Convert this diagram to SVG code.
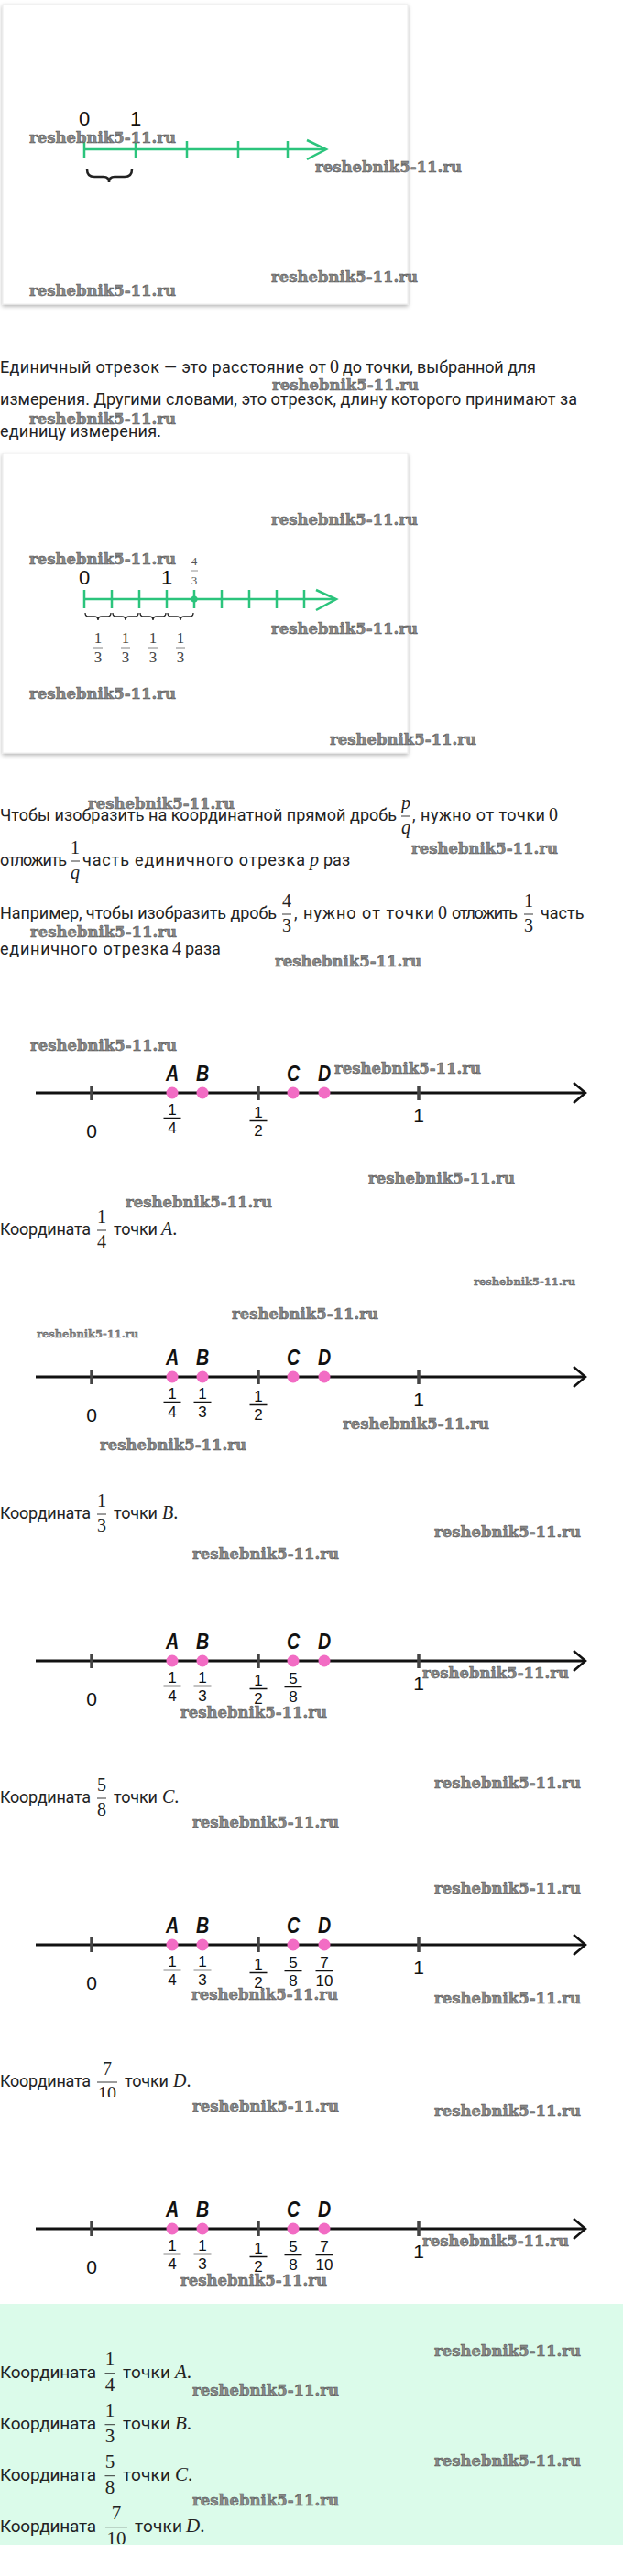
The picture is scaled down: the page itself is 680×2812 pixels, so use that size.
<svg xmlns="http://www.w3.org/2000/svg" width="680" height="2812" viewBox="0 0 680 2812">
<style>
.t{font-family:Roboto,"Liberation Sans",sans-serif;font-size:18px;fill:#222}
.tb{font-family:Roboto,"Liberation Sans",sans-serif;font-size:19px;fill:#222}
.m{font-family:"Liberation Serif",serif;font-size:20px;fill:#222}
.mb{font-family:"Liberation Serif",serif;font-size:21px;fill:#222}
.c{text-anchor:middle}
.i{font-style:italic}
.wm{font-family:"DejaVu Serif",serif;font-weight:bold;font-size:16.5px;fill:#8a8a8a;stroke:#4d4d4d;stroke-width:0.5}
.ws{font-size:11.5px;stroke-width:0.35}
.g{stroke:#2bc47c;stroke-width:2.5;fill:none}
.br{stroke:#222;fill:none}
.lab{font-family:"Liberation Sans",Arial,sans-serif;font-size:22px;fill:#111;text-anchor:middle}
.ax{stroke:#111;stroke-width:3;fill:none}
.ar{stroke:#111;stroke-width:2.5;fill:none}
.tk{stroke:#444;stroke-width:3.5}
.dot{fill:#f26cc4}
.pt{font-family:"Liberation Sans",Arial,sans-serif;font-weight:bold;font-style:italic;font-size:24px;fill:#111;text-anchor:middle}
.nm{font-family:"Liberation Sans",Arial,sans-serif;font-size:21px;fill:#111;text-anchor:middle}
.fd{font-family:"Liberation Sans",Arial,sans-serif;font-size:17px;fill:#111;text-anchor:middle}
.fb{stroke:#111;stroke-width:1.6}
.mbar{stroke:#222;stroke-width:0.9}
</style>
<defs>
<filter id="sh" x="-5%" y="-5%" width="110%" height="112%">
<feDropShadow dx="0" dy="2" stdDeviation="2" flood-color="#000" flood-opacity="0.3"/>
</filter>
<clipPath id="cd1"><rect x="95" y="2255" width="50" height="34"/></clipPath>
<clipPath id="cd2"><rect x="100" y="2740" width="55" height="37"/></clipPath>
</defs>

<g id="card1">
<rect x="3" y="5" width="442" height="327" fill="#fff" stroke="#ececec" filter="url(#sh)"/>
<line class="g" x1="92" y1="163" x2="355" y2="163"/>
<path class="g" d="M92,154V173M148,154V173M204,154V173M260,154V173M314,154V173"/>
<polyline class="g" points="335,153 356,163 335,174"/>
<text class="lab" x="92" y="137">0</text>
<text class="lab" x="148" y="137">1</text>
<path class="br" stroke-width="2.5" d="M95,185 Q95,193 103,193 L113,193 Q119,193 119,199 Q119,193 125,193 L136,193 Q144,193 144,185"/>
</g>

<g id="para1">
<text class="t" x="0" y="407" textLength="356">Единичный отрезок — это расстояние от</text>
<text class="m" x="360" y="407">0</text>
<text class="t" x="374" y="407" textLength="211">до точки, выбранной для</text>
<text class="t" x="0" y="442" textLength="630">измерения. Другими словами, это отрезок, длину которого принимают за</text>
<text class="t" x="0" y="477" textLength="176">единицу измерения.</text>
</g>

<g id="card2">
<rect x="3" y="495" width="442" height="327" fill="#fff" stroke="#ececec" filter="url(#sh)"/>
<line class="g" x1="92" y1="654" x2="366" y2="654"/>
<path class="g" d="M92,644V664M122,644V664M152,644V664M182,644V664M212,644V664M242,644V664M272,644V664M302,644V664M332,644V664"/>
<circle cx="212" cy="654" r="3.6" fill="#2bc47c"/>
<polyline class="g" points="345,644 367,654 345,666"/>
<text class="lab" x="92" y="638">0</text>
<text class="lab" x="182" y="638">1</text>
<text x="212" y="617" class="c" font-family="Liberation Serif,serif" font-size="13" fill="#555">4</text>
<line x1="208" y1="623" x2="216" y2="623" stroke="#777" stroke-width="0.8"/>
<text x="212" y="638" class="c" font-family="Liberation Serif,serif" font-size="13" fill="#555">3</text>
<path class="br" stroke-width="1.3" d="M93,669 Q93,673 97,673 L103,673 Q107,673 107,677 Q107,673 111,673 L117,673 Q121,673 121,669 M123,669 Q123,673 127,673 L133,673 Q137,673 137,677 Q137,673 141,673 L147,673 Q151,673 151,669 M153,669 Q153,673 157,673 L163,673 Q167,673 167,677 Q167,673 171,673 L177,673 Q181,673 181,669 M183,669 Q183,673 187,673 L193,673 Q197,673 197,677 Q197,673 201,673 L207,673 Q211,673 211,669"/>
<g font-family="Liberation Serif,serif" font-size="17" fill="#444" text-anchor="middle">
<text x="107" y="702">1</text><text x="107" y="723">3</text>
<text x="137" y="702">1</text><text x="137" y="723">3</text>
<text x="167" y="702">1</text><text x="167" y="723">3</text>
<text x="197" y="702">1</text><text x="197" y="723">3</text>
</g>
<path stroke="#666" stroke-width="0.8" d="M102,707H112M132,707H142M162,707H172M192,707H202"/>
</g>

<g id="para2">
<text class="t" x="0" y="896" textLength="433">Чтобы изобразить на координатной прямой дробь</text>
<text class="m i c" x="443" y="882.5">p</text>
<line class="mbar" x1="438" y1="891" x2="448" y2="891"/>
<text class="m i c" x="443" y="909.5">q</text>
<text class="t" x="450" y="896" textLength="145">, нужно от точки</text>
<text class="m" x="599" y="896">0</text>

<text class="t" x="0" y="945" textLength="73">отложить</text>
<text class="m c" x="82" y="931.5">1</text>
<line class="mbar" x1="77" y1="940" x2="87" y2="940"/>
<text class="m i c" x="82" y="958.5">q</text>
<text class="t" x="90" y="945" textLength="243">часть единичного отрезка</text>
<text class="m i" x="338" y="945">p</text>
<text class="t" x="353" y="945">раз</text>

<text class="t" x="0" y="1003" textLength="302">Например, чтобы изобразить дробь</text>
<text class="m c" x="313" y="989.5">4</text>
<line class="mbar" x1="308" y1="998" x2="318" y2="998"/>
<text class="m c" x="313" y="1016.7">3</text>
<text class="t" x="321" y="1003" textLength="153">, нужно от точки</text>
<text class="m" x="478" y="1003">0</text>
<text class="t" x="493" y="1003" textLength="72">отложить</text>
<text class="m c" x="577" y="989.5">1</text>
<line class="mbar" x1="572" y1="998" x2="582" y2="998"/>
<text class="m c" x="577" y="1016.7">3</text>
<text class="t" x="590" y="1003">часть</text>

<text class="t" x="0" y="1042" textLength="184">единичного отрезка</text>
<text class="m" x="188" y="1042">4</text>
<text class="t" x="202" y="1042">раза</text>
</g>

<g id="numberline1" transform="translate(0,1193)">
<line class="ax" x1="39" y1="0" x2="638" y2="0"/>
<polyline class="ar" points="626,-11 639,0 626,11"/>
<path class="tk" d="M100,-8V8M282,-8V8M457,-8V8"/>
<circle class="dot" cx="188" cy="0" r="6.5"/><circle class="dot" cx="221" cy="0" r="6.5"/><circle class="dot" cx="320" cy="0" r="6.5"/><circle class="dot" cx="354" cy="0" r="6.5"/>
<text class="pt" transform="translate(188,-13) scale(0.82,1)">A</text><text class="pt" transform="translate(221,-13) scale(0.82,1)">B</text><text class="pt" transform="translate(320,-13) scale(0.82,1)">C</text><text class="pt" transform="translate(354,-13) scale(0.82,1)">D</text>
<text class="nm" x="100" y="49">0</text><text class="nm" x="457" y="32">1</text>
<text class="fd" x="188" y="24">1</text><text class="fd" x="188" y="44">4</text>
<text class="fd" x="282" y="27">1</text><text class="fd" x="282" y="47">2</text>
<path class="fb" d="M178.5,27.5H197.5M272.5,30.5H291.5"/>
</g>

<g id="caption1">
<text class="t" x="0" y="1348" textLength="99">Координата</text>
<text class="m c" x="111" y="1334.5">1</text>
<line class="mbar" x1="106" y1="1343" x2="116" y2="1343"/>
<text class="m c" x="111" y="1361.7">4</text>
<text class="t" x="124" y="1348" textLength="48">точки</text>
<text class="m" x="176" y="1348"><tspan class="i">A</tspan>.</text>
</g>

<g id="numberline2" transform="translate(0,1503)">
<line class="ax" x1="39" y1="0" x2="638" y2="0"/>
<polyline class="ar" points="626,-11 639,0 626,11"/>
<path class="tk" d="M100,-8V8M282,-8V8M457,-8V8"/>
<circle class="dot" cx="188" cy="0" r="6.5"/><circle class="dot" cx="221" cy="0" r="6.5"/><circle class="dot" cx="320" cy="0" r="6.5"/><circle class="dot" cx="354" cy="0" r="6.5"/>
<text class="pt" transform="translate(188,-13) scale(0.82,1)">A</text><text class="pt" transform="translate(221,-13) scale(0.82,1)">B</text><text class="pt" transform="translate(320,-13) scale(0.82,1)">C</text><text class="pt" transform="translate(354,-13) scale(0.82,1)">D</text>
<text class="nm" x="100" y="49">0</text><text class="nm" x="457" y="32">1</text>
<text class="fd" x="188" y="24">1</text><text class="fd" x="188" y="44">4</text>
<text class="fd" x="221" y="24">1</text><text class="fd" x="221" y="44">3</text>
<text class="fd" x="282" y="27">1</text><text class="fd" x="282" y="47">2</text>
<path class="fb" d="M178.5,27.5H197.5M211.5,27.5H230.5M272.5,30.5H291.5"/>
</g>

<g id="caption2">
<text class="t" x="0" y="1658" textLength="99">Координата</text>
<text class="m c" x="111" y="1644.5">1</text>
<line class="mbar" x1="106" y1="1653" x2="116" y2="1653"/>
<text class="m c" x="111" y="1671.7">3</text>
<text class="t" x="124" y="1658" textLength="48">точки</text>
<text class="m" x="177" y="1658"><tspan class="i">B</tspan>.</text>
</g>

<g id="numberline3" transform="translate(0,1813)">
<line class="ax" x1="39" y1="0" x2="638" y2="0"/>
<polyline class="ar" points="626,-11 639,0 626,11"/>
<path class="tk" d="M100,-8V8M282,-8V8M457,-8V8"/>
<circle class="dot" cx="188" cy="0" r="6.5"/><circle class="dot" cx="221" cy="0" r="6.5"/><circle class="dot" cx="320" cy="0" r="6.5"/><circle class="dot" cx="354" cy="0" r="6.5"/>
<text class="pt" transform="translate(188,-13) scale(0.82,1)">A</text><text class="pt" transform="translate(221,-13) scale(0.82,1)">B</text><text class="pt" transform="translate(320,-13) scale(0.82,1)">C</text><text class="pt" transform="translate(354,-13) scale(0.82,1)">D</text>
<text class="nm" x="100" y="49">0</text><text class="nm" x="457" y="32">1</text>
<text class="fd" x="188" y="24">1</text><text class="fd" x="188" y="44">4</text>
<text class="fd" x="221" y="24">1</text><text class="fd" x="221" y="44">3</text>
<text class="fd" x="282" y="27">1</text><text class="fd" x="282" y="47">2</text>
<text class="fd" x="320" y="25">5</text><text class="fd" x="320" y="45">8</text>
<path class="fb" d="M178.5,27.5H197.5M211.5,27.5H230.5M272.5,30.5H291.5M310.5,28.5H329.5"/>
</g>

<g id="caption3">
<text class="t" x="0" y="1968" textLength="99">Координата</text>
<text class="m c" x="111" y="1954.5">5</text>
<line class="mbar" x1="106" y1="1963" x2="116" y2="1963"/>
<text class="m c" x="111" y="1981.7">8</text>
<text class="t" x="124" y="1968" textLength="48">точки</text>
<text class="m" x="177" y="1968"><tspan class="i">C</tspan>.</text>
</g>

<g id="numberline4" transform="translate(0,2123)">
<line class="ax" x1="39" y1="0" x2="638" y2="0"/>
<polyline class="ar" points="626,-11 639,0 626,11"/>
<path class="tk" d="M100,-8V8M282,-8V8M457,-8V8"/>
<circle class="dot" cx="188" cy="0" r="6.5"/><circle class="dot" cx="221" cy="0" r="6.5"/><circle class="dot" cx="320" cy="0" r="6.5"/><circle class="dot" cx="354" cy="0" r="6.5"/>
<text class="pt" transform="translate(188,-13) scale(0.82,1)">A</text><text class="pt" transform="translate(221,-13) scale(0.82,1)">B</text><text class="pt" transform="translate(320,-13) scale(0.82,1)">C</text><text class="pt" transform="translate(354,-13) scale(0.82,1)">D</text>
<text class="nm" x="100" y="49">0</text><text class="nm" x="457" y="32">1</text>
<text class="fd" x="188" y="24">1</text><text class="fd" x="188" y="44">4</text>
<text class="fd" x="221" y="24">1</text><text class="fd" x="221" y="44">3</text>
<text class="fd" x="282" y="27">1</text><text class="fd" x="282" y="47">2</text>
<text class="fd" x="320" y="25">5</text><text class="fd" x="320" y="45">8</text>
<text class="fd" x="354" y="25">7</text><text class="fd" x="354" y="45">10</text>
<path class="fb" d="M178.5,27.5H197.5M211.5,27.5H230.5M272.5,30.5H291.5M310.5,28.5H329.5M344.5,28.5H363.5"/>
</g>

<g id="caption4">
<text class="t" x="0" y="2278" textLength="99">Координата</text>
<text class="m c" x="117" y="2264.5">7</text>
<line class="mbar" x1="106" y1="2273" x2="128" y2="2273"/>
<text class="m c" x="117" y="2291.7" clip-path="url(#cd1)">10</text>
<text class="t" x="136" y="2278" textLength="48">точки</text>
<text class="m" x="189" y="2278"><tspan class="i">D</tspan>.</text>
</g>

<g id="numberline5" transform="translate(0,2433)">
<line class="ax" x1="39" y1="0" x2="638" y2="0"/>
<polyline class="ar" points="626,-11 639,0 626,11"/>
<path class="tk" d="M100,-8V8M282,-8V8M457,-8V8"/>
<circle class="dot" cx="188" cy="0" r="6.5"/><circle class="dot" cx="221" cy="0" r="6.5"/><circle class="dot" cx="320" cy="0" r="6.5"/><circle class="dot" cx="354" cy="0" r="6.5"/>
<text class="pt" transform="translate(188,-13) scale(0.82,1)">A</text><text class="pt" transform="translate(221,-13) scale(0.82,1)">B</text><text class="pt" transform="translate(320,-13) scale(0.82,1)">C</text><text class="pt" transform="translate(354,-13) scale(0.82,1)">D</text>
<text class="nm" x="100" y="49">0</text><text class="nm" x="457" y="32">1</text>
<text class="fd" x="188" y="24">1</text><text class="fd" x="188" y="44">4</text>
<text class="fd" x="221" y="24">1</text><text class="fd" x="221" y="44">3</text>
<text class="fd" x="282" y="27">1</text><text class="fd" x="282" y="47">2</text>
<text class="fd" x="320" y="25">5</text><text class="fd" x="320" y="45">8</text>
<text class="fd" x="354" y="25">7</text><text class="fd" x="354" y="45">10</text>
<path class="fb" d="M178.5,27.5H197.5M211.5,27.5H230.5M272.5,30.5H291.5M310.5,28.5H329.5M344.5,28.5H363.5"/>
</g>

<g id="summary">
<rect x="0" y="2515" width="680" height="263" fill="#dbfbea"/>
<text class="tb" x="0" y="2596" textLength="105">Координата</text>
<text class="mb c" x="120" y="2582">1</text>
<line class="mbar" x1="114.5" y1="2590.7" x2="125.5" y2="2590.7"/>
<text class="mb c" x="120" y="2610.4">4</text>
<text class="tb" x="134" y="2596" textLength="52">точки</text>
<text class="mb" x="191" y="2596"><tspan class="i">A</tspan>.</text>

<text class="tb" x="0" y="2652" textLength="105">Координата</text>
<text class="mb c" x="120" y="2638">1</text>
<line class="mbar" x1="114.5" y1="2646.7" x2="125.5" y2="2646.7"/>
<text class="mb c" x="120" y="2666.4">3</text>
<text class="tb" x="134" y="2652" textLength="52">точки</text>
<text class="mb" x="191" y="2652"><tspan class="i">B</tspan>.</text>

<text class="tb" x="0" y="2708" textLength="105">Координата</text>
<text class="mb c" x="120" y="2694">5</text>
<line class="mbar" x1="114.5" y1="2702.7" x2="125.5" y2="2702.7"/>
<text class="mb c" x="120" y="2722.4">8</text>
<text class="tb" x="134" y="2708" textLength="52">точки</text>
<text class="mb" x="191" y="2708"><tspan class="i">C</tspan>.</text>

<text class="tb" x="0" y="2764" textLength="105">Координата</text>
<text class="mb c" x="127" y="2750">7</text>
<line class="mbar" x1="115" y1="2758.7" x2="139" y2="2758.7"/>
<text class="mb c" x="127" y="2778.4" clip-path="url(#cd2)">10</text>
<text class="tb" x="147" y="2764" textLength="52">точки</text>
<text class="mb" x="203" y="2764"><tspan class="i">D</tspan>.</text>
</g>

<g id="watermarks">
<text class="wm" x="32" y="156" textLength="160">reshebnik5-11.ru</text>
<text class="wm" x="344" y="188" textLength="160">reshebnik5-11.ru</text>
<text class="wm" x="296" y="308" textLength="160">reshebnik5-11.ru</text>
<text class="wm" x="32" y="323" textLength="160">reshebnik5-11.ru</text>
<text class="wm" x="297" y="426" textLength="160">reshebnik5-11.ru</text>
<text class="wm" x="32" y="463" textLength="160">reshebnik5-11.ru</text>
<text class="wm" x="296" y="573" textLength="160">reshebnik5-11.ru</text>
<text class="wm" x="32" y="616" textLength="160">reshebnik5-11.ru</text>
<text class="wm" x="296" y="692" textLength="160">reshebnik5-11.ru</text>
<text class="wm" x="32" y="763" textLength="160">reshebnik5-11.ru</text>
<text class="wm" x="360" y="813" textLength="160">reshebnik5-11.ru</text>
<text class="wm" x="96" y="883" textLength="160">reshebnik5-11.ru</text>
<text class="wm" x="449" y="932" textLength="160">reshebnik5-11.ru</text>
<text class="wm" x="33" y="1023" textLength="160">reshebnik5-11.ru</text>
<text class="wm" x="300" y="1055" textLength="160">reshebnik5-11.ru</text>
<text class="wm" x="33" y="1147" textLength="160">reshebnik5-11.ru</text>
<text class="wm" x="365" y="1172" textLength="160">reshebnik5-11.ru</text>
<text class="wm" x="402" y="1292" textLength="160">reshebnik5-11.ru</text>
<text class="wm" x="137" y="1318" textLength="160">reshebnik5-11.ru</text>
<text class="wm ws" x="517" y="1403" textLength="111">reshebnik5-11.ru</text>
<text class="wm" x="253" y="1440" textLength="160">reshebnik5-11.ru</text>
<text class="wm ws" x="40" y="1460" textLength="111">reshebnik5-11.ru</text>
<text class="wm" x="374" y="1560" textLength="160">reshebnik5-11.ru</text>
<text class="wm" x="109" y="1583" textLength="160">reshebnik5-11.ru</text>
<text class="wm" x="474" y="1678" textLength="160">reshebnik5-11.ru</text>
<text class="wm" x="210" y="1702" textLength="160">reshebnik5-11.ru</text>
<text class="wm" x="461" y="1832" textLength="160">reshebnik5-11.ru</text>
<text class="wm" x="197" y="1875" textLength="160">reshebnik5-11.ru</text>
<text class="wm" x="474" y="1952" textLength="160">reshebnik5-11.ru</text>
<text class="wm" x="210" y="1995" textLength="160">reshebnik5-11.ru</text>
<text class="wm" x="474" y="2067" textLength="160">reshebnik5-11.ru</text>
<text class="wm" x="209" y="2183" textLength="160">reshebnik5-11.ru</text>
<text class="wm" x="474" y="2187" textLength="160">reshebnik5-11.ru</text>
<text class="wm" x="210" y="2305" textLength="160">reshebnik5-11.ru</text>
<text class="wm" x="474" y="2310" textLength="160">reshebnik5-11.ru</text>
<text class="wm" x="461" y="2452" textLength="160">reshebnik5-11.ru</text>
<text class="wm" x="197" y="2495" textLength="160">reshebnik5-11.ru</text>
<text class="wm" x="474" y="2572" textLength="160">reshebnik5-11.ru</text>
<text class="wm" x="210" y="2615" textLength="160">reshebnik5-11.ru</text>
<text class="wm" x="474" y="2692" textLength="160">reshebnik5-11.ru</text>
<text class="wm" x="210" y="2735" textLength="160">reshebnik5-11.ru</text>
</g>
</svg>
